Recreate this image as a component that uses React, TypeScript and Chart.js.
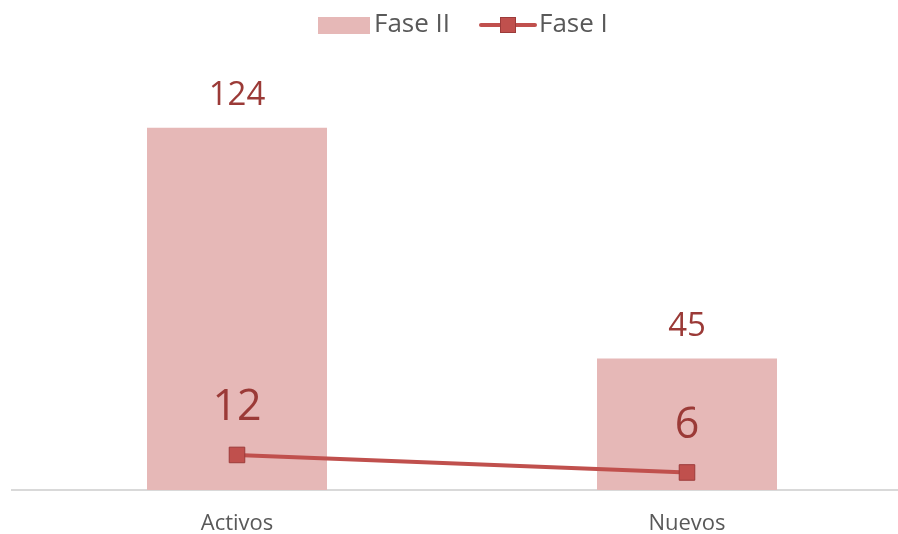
import React, { useEffect, useRef } from "react";
import { Chart, registerables } from "chart.js";

Chart.register(...registerables);

const categories = ["Activos", "Nuevos"];
const faseII = [124, 45];
const faseI = [12, 6];
const legendLabels = ["Fase II", "Fase I"];

const FONT = "'Open Sans', 'Liberation Sans', sans-serif";
const BAR_COLOR = "#E6B8B7";
const LINE_COLOR = "#C0504D";
const POINT_BORDER = "#9C3B3A";
const LABEL_COLOR = "#9B3A37";
const TEXT_GREY = "#595959";
const CANVAS_W = 924;

const labelsPlugin = {
  id: "valueLabels",
  afterDatasetsDraw(chart: any) {
    const ctx = chart.ctx;
    ctx.save();
    ctx.fillStyle = LABEL_COLOR;
    ctx.textAlign = "center";
    ctx.textBaseline = "middle";
    const barMeta = chart.getDatasetMeta(0);
    ctx.font = `33px ${FONT}`;
    barMeta.data.forEach((el: any, i: number) => {
      ctx.fillText(String(chart.data.datasets[0].data[i]), el.x, el.y - 32);
    });
    const lineMeta = chart.getDatasetMeta(1);
    ctx.font = `43px ${FONT}`;
    lineMeta.data.forEach((el: any, i: number) => {
      ctx.fillText(String(chart.data.datasets[1].data[i]), el.x, el.y - 47);
    });
    ctx.restore();
  },
};

const legendPlugin = {
  id: "customLegend",
  afterDraw(chart: any) {
    const ctx = chart.ctx;
    ctx.save();
    const cy = 25;
    ctx.fillStyle = BAR_COLOR;
    ctx.fillRect(318, cy - 8, 52, 17);
    ctx.font = `26px ${FONT}`;
    ctx.fillStyle = TEXT_GREY;
    ctx.textBaseline = "middle";
    ctx.textAlign = "left";
    ctx.fillText(legendLabels[0], 374, cy);
    ctx.strokeStyle = LINE_COLOR;
    ctx.lineWidth = 4;
    ctx.lineCap = "round";
    ctx.beginPath();
    ctx.moveTo(481, cy);
    ctx.lineTo(535, cy);
    ctx.stroke();
    ctx.fillStyle = LINE_COLOR;
    ctx.fillRect(500, cy - 8, 16, 16);
    ctx.strokeStyle = POINT_BORDER;
    ctx.lineWidth = 1;
    ctx.strokeRect(500.5, cy - 7.5, 15, 15);
    ctx.fillStyle = TEXT_GREY;
    ctx.fillText(legendLabels[1], 539, cy);
    ctx.restore();
  },
};

export default function App() {
  const ref = useRef<HTMLCanvasElement>(null);
  useEffect(() => {
    if (!ref.current) return;
    const chart = new Chart(ref.current, {
      type: "bar",
      data: {
        labels: categories,
        datasets: [
          {
            type: "bar",
            label: legendLabels[0],
            data: faseII,
            backgroundColor: BAR_COLOR,
            categoryPercentage: 1,
            barPercentage: 0.4,
            order: 2,
          },
          {
            type: "line",
            label: legendLabels[1],
            data: faseI,
            borderColor: LINE_COLOR,
            borderWidth: 4,
            pointStyle: "rect",
            pointRadius: 11,
            pointBackgroundColor: LINE_COLOR,
            pointBorderColor: POINT_BORDER,
            pointBorderWidth: 1,
            order: 1,
          } as any,
        ],
      },
      options: {
        animation: false,
        responsive: false,
        maintainAspectRatio: false,
        layout: { padding: { left: 7.5, right: 0.5, top: 81, bottom: 0 } },
        plugins: { legend: { display: false }, tooltip: { enabled: false } },
        scales: {
          x: {
            grid: { display: false, drawTicks: false },
            border: { display: true, color: "#D9D9D9", width: 2 },
            ticks: {
              color: TEXT_GREY,
              font: { family: FONT, size: 22, lineHeight: 1 },
              padding: 23,
              maxRotation: 0,
              autoSkip: false,
            },
            afterFit(scale: any) {
              scale.height = 44;
            },
          },
          y: { display: false, min: 0, max: 140 },
        },
      },
      plugins: [labelsPlugin, legendPlugin],
    });
    return () => chart.destroy();
  }, []);
  return (
    <div style={{ position: "fixed", left: 0, top: 0, width: 898, height: 534, overflow: "hidden", background: "#fff" }}>
      <div style={{ width: CANVAS_W, height: 534 }}>
        <canvas ref={ref} width={CANVAS_W} height={534} style={{ width: CANVAS_W, height: 534, display: "block" }} />
      </div>
    </div>
  );
}
